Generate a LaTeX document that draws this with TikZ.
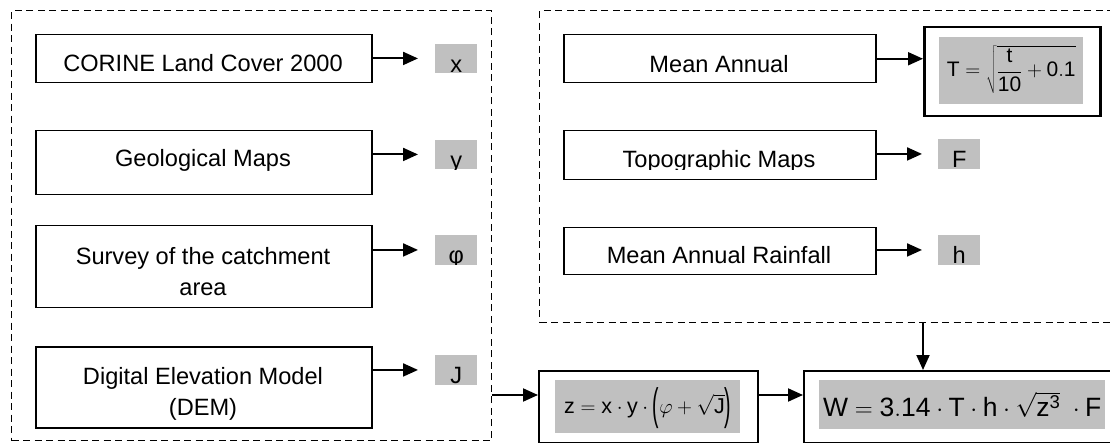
\documentclass[tikz,border=0pt]{standalone}
\usepackage{graphicx}
\usepackage{fontspec}
\setmainfont{Liberation Sans}
\usetikzlibrary{arrows.meta}
\definecolor{lblgray}{RGB}{192,192,192}
\newcommand\glabel[4]{%
  \node[lbl] (#1) at (#2) {};
  \begin{scope}
    \clip (#1.south west) rectangle (#1.north east);
    \node[txt] (#1t) at ([yshift=1pt]#1.south) {#3};
  \end{scope}}
\newcommand\tallparen[1]{\raisebox{-6pt}{\scalebox{0.9}[2.05]{#1}}}
\begin{document}
\begin{tikzpicture}[x=1pt,y=-1pt,
  box/.style={draw, line width=1.5pt, rectangle, inner sep=0pt, anchor=north west},
  grp/.style={draw, line width=1.4pt, dash pattern=on 7pt off 4.5pt, rectangle, inner sep=0pt, anchor=north west},
  lbl/.style={fill=lblgray, inner sep=0pt, anchor=north west, minimum width=42pt, minimum height=29.5pt},
  gfill/.style={fill=lblgray, inner sep=0pt, anchor=north west},
  txt/.style={font=\fontsize{23.6}{31}\selectfont, inner sep=0pt, anchor=base, align=center},
  ftxt/.style={inner sep=0pt},
  arr/.style={line width=2pt, -{Triangle[length=15pt,width=13pt]}},
]
\clip (0,0) rectangle (1110,443);

% dashed groups
\node[grp, minimum width=480pt, minimum height=430pt] (lgrp) at (11,10) {};
\node[grp, minimum width=620pt, minimum height=312pt] (rgrp) at (539,10) {};

% left boxes
\node[box, minimum width=336pt, minimum height=48pt] (b1) at (35,34) {};
\node[box, minimum width=336pt, minimum height=64pt] (b2) at (35,130) {};
\node[box, minimum width=336pt, minimum height=82pt] (b3) at (35,225) {};
\node[box, minimum width=336pt, minimum height=81pt] (b4) at (35,346) {};
\node[txt] (t1) at (203,72) {CORINE Land Cover 2000};
\node[txt] (t2) at (203,167) {Geological Maps};
\node[txt] (t3) at (203,296) {Survey of the catchment\\area};
\begin{scope}
  \clip (35,346) rectangle (371,420);
  \node[txt] (t4) at (203,415) {Digital Elevation Model\\(DEM)};
\end{scope}

% left labels
\glabel{lx}{435,43.5}{x}{}
\glabel{ly}{435,139.5}{y}{}
\glabel{lp}{435,235}{φ}{}
\glabel{lj}{435,355}{J}{}

\draw[arr] (b1.east |- lx.center) -- ([xshift=-17pt]lx.west);
\draw[arr] (b2.east |- ly.center) -- ([xshift=-17pt]ly.west);
\draw[arr] (b3.east |- lp.center) -- ([xshift=-17pt]lp.west);
\draw[arr] (b4.east |- lj.center) -- ([xshift=-17pt]lj.west);

% right boxes
\node[box, minimum width=312pt, minimum height=48pt] (r1) at (563,34) {};
\node[box, minimum width=312pt, minimum height=49pt] (r2) at (563,130) {};
\node[box, minimum width=312pt, minimum height=47pt] (r3) at (563,227) {};
\node[txt] (s1) at (719,72.5) {Mean Annual};
\begin{scope}
  \clip (563,130) rectangle (875,169.5);
  \node[txt] (s2) at (719,168) {Topographic Maps};
\end{scope}
\node[txt] (s3) at (719,264) {Mean Annual Rainfall};

% T formula box
\node[box, line width=2.5pt, minimum width=176pt, minimum height=89pt] (tb) at (923,26) {};
\node[gfill, minimum width=144pt, minimum height=67pt] (tg) at (939,37) {};
\node[ftxt, font=\fontsize{21}{25}\selectfont] (tf) at ([yshift=1pt]tg.center)
  {$\mathrm{T}=\sqrt{\displaystyle\frac{\mathrm{t}}{\mathrm{10}}+\mathrm{0.1}}$};

\glabel{lf}{938,139}{F}{}
\glabel{lh}{938,235}{h}{}

\draw[arr] (r1.east) -- (r1.east -| tb.west);
\draw[arr] (r2.east |- lf.center) -- ([xshift=-16pt]lf.west);
\draw[arr] (r3.east |- lh.center) -- ([xshift=-16pt]lh.west);

% z box
\node[box, line width=2pt, minimum width=219pt, minimum height=71.5pt] (zb) at (538,370) {};
\node[gfill, minimum width=185pt, minimum height=53pt] (zg) at (555,380) {};
\node[ftxt, font=\fontsize{21.5}{26}\selectfont, anchor=base] (zf) at ([yshift=-33pt]zg.north)
  {$\mathrm{z}=\mathrm{x}\cdot\mathrm{y}\cdot\tallparen{(}\varphi+\sqrt{\mathrm{J}}\tallparen{)}$};

% W box
\node[box, line width=2pt, minimum width=330pt, minimum height=71.5pt] (wb) at (803,370) {};
\node[gfill, minimum width=286pt, minimum height=49pt] (wg) at (819,380) {};
\node[ftxt, font=\fontsize{26.5}{32}\selectfont] (wf) at (wg.center)
  {$\mathrm{W}=\mathrm{3.14}\cdot\mathrm{T}\cdot\mathrm{h}\cdot\sqrt{\mathrm{z}^{\mathrm{3}}}\;\cdot\mathrm{F}$};

% connectors between groups
\coordinate (row) at (0,395);
\coordinate (dn) at (923,0);
\draw[arr] (lgrp.east |- row) -- (zb.west |- row);
\draw[arr] (zb.east |- row) -- (wb.west |- row);
\draw[arr] (rgrp.south -| dn) -- (wb.north -| dn);
\end{tikzpicture}
\end{document}
